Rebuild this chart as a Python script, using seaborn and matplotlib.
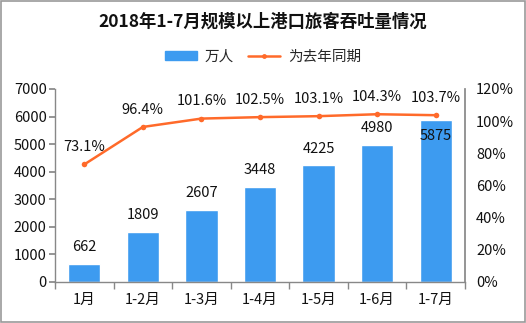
import matplotlib
matplotlib.use("Agg")
import matplotlib.pyplot as plt
import matplotlib.patches as mpatches
from matplotlib.lines import Line2D
import seaborn as sns
import pandas as pd

months = ["1月", "1-2月", "1-3月", "1-4月", "1-5月", "1-6月", "1-7月"]
passengers = [662, 1809, 2607, 3448, 4225, 4980, 5875]
yoy_pct = [73.1, 96.4, 101.6, 102.5, 103.1, 104.3, 103.7]

sns.set_theme(style="white")
plt.rcParams["font.family"] = ["Noto Sans CJK SC", "DejaVu Sans"]

bar_color = "#3D9BF0"
line_color = "#FF6A2A"

df = pd.DataFrame({"month": months, "passengers": passengers, "yoy": yoy_pct})

fig = plt.figure(figsize=(5.26, 3.23), dpi=100)
ax = fig.add_axes([0.1046, 0.127, 0.7794, 0.5975])

sns.barplot(data=df, x="month", y="passengers", color=bar_color, width=0.55,
            saturation=1, ax=ax)
ax.set_ylim(0, 7000)
ax.set_yticks(range(0, 7001, 1000))
ax.set_xlim(-0.5, len(months) - 0.5)
ax.set_xlabel("")
ax.set_ylabel("")

# value labels above the bars; the tallest one sits just inside its bar
for i, v in enumerate(passengers):
    dy = -11.5 if i == len(passengers) - 1 else 12
    ax.annotate(f"{v}", (i, v), xytext=(0, dy), textcoords="offset points",
                ha="center", va="center", fontsize=10.5, color="#111111")

ax2 = ax.twinx()
sns.lineplot(x=list(range(len(months))), y=yoy_pct, color=line_color, lw=1.8,
             marker="o", markersize=4, markeredgewidth=0, ax=ax2)
ax2.set_ylim(0, 120)
ax2.set_yticks(range(0, 121, 20))
ax2.set_yticklabels([f"{t}%" for t in range(0, 121, 20)])
for i, v in enumerate(yoy_pct):
    ax2.annotate(f"{v}%", (i, v), xytext=(0, 12.5), textcoords="offset points",
                 ha="center", va="center", fontsize=10.5, color="#111111")

# axes styling
for a in (ax, ax2):
    for s in a.spines.values():
        s.set_visible(False)
ax.spines["left"].set_visible(True)
ax.spines["bottom"].set_visible(True)
ax2.spines["right"].set_visible(True)
for name in ("left", "bottom"):
    ax.spines[name].set_color("#888888")
    ax.spines[name].set_linewidth(1)
ax2.spines["right"].set_color("#888888")

ax.tick_params(axis="y", length=4, color="#888888", labelsize=10.5, labelcolor="#111111", pad=2, left=True)
ax.set_xticks([i + 0.5 for i in range(-1, len(months))], minor=True)
ax.tick_params(axis="x", which="major", length=0, labelsize=10.5, labelcolor="#111111", pad=8)
ax.tick_params(axis="x", which="minor", length=5, color="#888888", bottom=True)
ax2.tick_params(axis="y", length=0, labelsize=10.5, labelcolor="#111111", pad=8)

fig.text(0.5, 0.932, "2018年1-7月规模以上港口旅客吞吐量情况", ha="center", va="center",
         fontsize=12.5, fontweight="bold", color="#111111")

handles = [mpatches.Patch(color=bar_color, label="万人"),
           Line2D([0], [0], color=line_color, lw=1.8, marker="o", markersize=3.5,
                  markeredgewidth=0, label="为去年同期")]
fig.legend(handles=handles, loc="center", bbox_to_anchor=(0.5, 0.825), ncol=2,
           frameon=False, fontsize=10.5, handlelength=2.2, handleheight=0.6,
           columnspacing=1.0, handletextpad=0.5)

fig.add_artist(mpatches.Rectangle((0.002, 0.003), 0.996, 0.994, transform=fig.transFigure,
                                  fill=False, edgecolor="#999999", lw=1.2))

fig.savefig("out.png", dpi=100)
